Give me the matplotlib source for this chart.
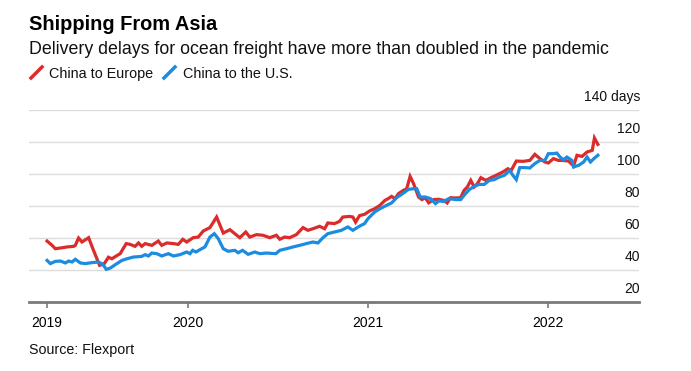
import matplotlib
matplotlib.use('Agg')
import matplotlib.pyplot as plt
import matplotlib.transforms as mtransforms
from matplotlib.lines import Line2D

# 1. DATA (x in fractional years)
europe_x = [2019.217, 2019.245, 2019.263, 2019.291, 2019.328, 2019.365, 2019.374, 2019.392,
            2019.411, 2019.448, 2019.475, 2019.509, 2019.535, 2019.558, 2019.577, 2019.605,
            2019.623, 2019.657, 2019.679, 2019.706, 2019.725, 2019.743, 2019.762, 2019.799,
            2019.835, 2019.854, 2019.882, 2019.919, 2019.946, 2019.971, 2019.993, 2020.029,
            2020.057, 2020.085, 2020.122, 2020.159, 2020.196, 2020.233, 2020.260, 2020.288,
            2020.321, 2020.343, 2020.381, 2020.417, 2020.454, 2020.491, 2020.510, 2020.537,
            2020.565, 2020.602, 2020.639, 2020.666, 2020.694, 2020.731, 2020.759, 2020.777,
            2020.814, 2020.842, 2020.860, 2020.898, 2020.916, 2020.931, 2020.953, 2020.981,
            2021.009, 2021.037, 2021.066, 2021.094, 2021.112, 2021.131, 2021.150, 2021.169,
            2021.197, 2021.215, 2021.234, 2021.253, 2021.281, 2021.300, 2021.318, 2021.337,
            2021.365, 2021.393, 2021.421, 2021.440, 2021.459, 2021.487, 2021.515, 2021.534,
            2021.552, 2021.571, 2021.590, 2021.608, 2021.627, 2021.655, 2021.683, 2021.712,
            2021.749, 2021.777, 2021.796, 2021.824, 2021.862, 2021.899, 2021.927, 2021.955,
            2021.983, 2022.002, 2022.030, 2022.058, 2022.077, 2022.114, 2022.142, 2022.161,
            2022.189, 2022.217, 2022.246, 2022.258, 2022.277]
europe_days = [58.1, 55.4, 53.3, 53.75, 54.4, 54.8, 55.4, 60.0,
               57.5, 60.2, 52.3, 42.9, 44.0, 48.0, 47.0, 49.0,
               50.2, 56.5, 56.0, 54.8, 56.9, 54.8, 56.5, 55.4,
               58.1, 55.4, 56.9, 56.5, 56.0, 59.2, 57.5, 60.2,
               60.6, 64.4, 66.5, 73.1, 63.1, 65.2, 62.7, 60.2,
               63.75, 60.6, 62.1, 61.7, 60.2, 61.7, 59.2, 60.6,
               60.2, 62.1, 66.5, 64.8, 65.8, 67.3, 65.8, 69.4,
               69.0, 70.4, 73.1, 73.5, 73.1, 69.9, 74.0, 74.8,
               76.9, 78.3, 80.4, 83.5, 84.6, 86.0, 84.6, 87.7,
               89.8, 90.8, 98.5, 94.0, 85.6, 84.0, 85.2, 82.0,
               84.0, 84.2, 83.5, 81.9, 85.2, 85.0, 85.2, 89.8,
               91.9, 96.0, 91.9, 94.0, 97.7, 96.0, 97.7, 99.2,
               101.25, 103.3, 102.3, 108.1, 107.9, 108.5, 112.3, 109.6,
               107.5, 106.9, 109.6, 108.5, 108.5, 108.1, 105.0, 111.7,
               111.0, 113.75, 114.8, 122.5, 118.5]

us_x = [2019.217, 2019.235, 2019.263, 2019.291, 2019.319, 2019.337, 2019.356, 2019.374,
        2019.402, 2019.429, 2019.466, 2019.503, 2019.527, 2019.546, 2019.568, 2019.605,
        2019.633, 2019.660, 2019.697, 2019.743, 2019.762, 2019.780, 2019.799, 2019.827,
        2019.854, 2019.891, 2019.919, 2019.956, 2019.993, 2020.011, 2020.026, 2020.044,
        2020.066, 2020.094, 2020.122, 2020.146, 2020.168, 2020.196, 2020.223, 2020.260,
        2020.279, 2020.303, 2020.334, 2020.371, 2020.399, 2020.436, 2020.488, 2020.510,
        2020.547, 2020.583, 2020.620, 2020.658, 2020.694, 2020.722, 2020.750, 2020.777,
        2020.814, 2020.852, 2020.888, 2020.916, 2020.953, 2020.981, 2021.000, 2021.037,
        2021.066, 2021.103, 2021.131, 2021.159, 2021.187, 2021.225, 2021.253, 2021.271,
        2021.290, 2021.318, 2021.347, 2021.375, 2021.393, 2021.421, 2021.449, 2021.487,
        2021.515, 2021.534, 2021.562, 2021.590, 2021.618, 2021.646, 2021.674, 2021.702,
        2021.730, 2021.758, 2021.787, 2021.805, 2021.824, 2021.843, 2021.871, 2021.899,
        2021.927, 2021.955, 2021.983, 2022.002, 2022.030, 2022.049, 2022.067, 2022.086,
        2022.105, 2022.133, 2022.142, 2022.170, 2022.198, 2022.217, 2022.236, 2022.255,
        2022.277]
us_days = [46.0, 44.0, 45.4, 45.6, 44.4, 45.6, 45.0, 46.7,
           44.4, 44.0, 44.6, 45.0, 43.5, 40.4, 41.2, 44.0,
           46.0, 47.0, 48.1, 48.5, 49.6, 48.75, 50.6, 50.2,
           48.75, 50.2, 48.75, 49.6, 51.25, 50.2, 52.3, 51.25,
           52.7, 54.4, 60.6, 62.7, 59.6, 53.3, 51.7, 52.3,
           50.8, 52.3, 49.8, 51.25, 50.2, 50.6, 50.2, 52.3,
           53.3, 54.4, 55.4, 56.5, 57.5, 56.9, 60.2, 62.7,
           63.75, 64.8, 66.9, 64.8, 67.4, 69.0, 72.1, 76.25,
           78.3, 80.4, 81.9, 85.2, 87.3, 90.4, 90.8, 90.8,
           85.6, 85.6, 84.6, 81.5, 83.1, 82.9, 84.6, 84.0,
           84.0, 86.7, 90.2, 92.3, 93.5, 93.5, 96.0, 96.5,
           98.1, 99.2, 102.3, 99.2, 96.5, 104.0, 104.0, 103.75,
           106.5, 108.5, 108.5, 112.7, 112.7, 113.1, 110.6, 108.9,
           110.6, 108.5, 104.4, 105.4, 107.5, 110.6, 107.5, 109.6,
           111.7]

year_ticks = [2019.217, 2020, 2021, 2022]
year_labels = ['2019', '2020', '2021', '2022']
day_ticks = [20, 40, 60, 80, 100, 120, 140]
day_labels = ['20', '40', '60', '80', '100', '120', '140 days']

RED = '#dc2b2b'
BLUE = '#1b8ce0'
AXIS_GRAY = '#7a7a7a'

plt.rcParams['font.family'] = ['Liberation Sans', 'DejaVu Sans']

W, H = 691, 371
fig = plt.figure(figsize=(W / 100, H / 100), dpi=100)

def fx(px):
    return px / W

def fy(py):
    return 1 - py / H

# 2. AXES (plot area from x=29..639 px, y=110..302 px)
ax = fig.add_axes([fx(29), fy(302), fx(639) - fx(29), fy(110) - fy(302)])
ax.set_xlim(2019.1167, 2022.5056)
ax.set_ylim(20, 140)

for v in day_ticks[1:]:
    ax.axhline(v, color='#dcdcdc', linewidth=1.0, zorder=0)

ax.plot(europe_x, europe_days, color=RED, linewidth=2.3, solid_joinstyle='miter', zorder=3)
ax.plot(us_x, us_days, color=BLUE, linewidth=2.3, solid_joinstyle='miter', zorder=4)

for side in ['top', 'right', 'left']:
    ax.spines[side].set_visible(False)
ax.spines['bottom'].set_color(AXIS_GRAY)
ax.spines['bottom'].set_linewidth(2.0)

ax.set_yticks([])
ax.set_xticks(year_ticks)
ax.set_xticklabels(year_labels)
ax.tick_params(axis='x', length=4, width=1.2, color=AXIS_GRAY, pad=6, labelsize=10)

# y labels sit above their gridline, right aligned
trans = mtransforms.blended_transform_factory(ax.transAxes, ax.transData)
for v, lab in zip(day_ticks, day_labels):
    ax.annotate(lab, xy=(1.0, v), xycoords=trans, xytext=(1, 9),
                textcoords='offset pixels', ha='right', va='baseline',
                fontsize=10, color='#111111', annotation_clip=False)

# 3. TITLES, LEGEND, SOURCE
fig.text(fx(29), fy(30), 'Shipping From Asia', fontsize=14.4, fontweight='bold',
         color='#000000', va='baseline')
fig.text(fx(29), fy(54), 'Delivery delays for ocean freight have more than doubled in the pandemic',
         fontsize=12.8, color='#111111', va='baseline')

fig.add_artist(Line2D([fx(31), fx(42)], [fy(78), fy(67)], color=RED, linewidth=2.5))
fig.text(fx(49), fy(78), 'China to Europe', fontsize=10.4, color='#111111', va='baseline')
fig.add_artist(Line2D([fx(164), fx(175)], [fy(78), fy(67)], color=BLUE, linewidth=2.5))
fig.text(fx(183), fy(78), 'China to the U.S.', fontsize=10.4, color='#111111', va='baseline')

fig.text(fx(29), fy(354), 'Source: Flexport', fontsize=10.3, color='#111111', va='baseline')

fig.savefig('out.png', dpi=100)
